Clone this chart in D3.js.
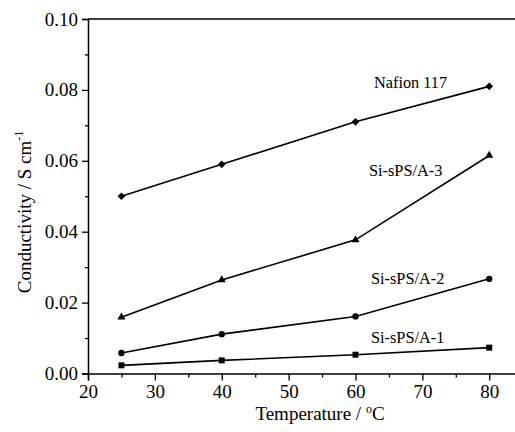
<!DOCTYPE html>
<html>
<head>
<meta charset="utf-8">
<script src="https://cdn.jsdelivr.net/npm/d3@7"></script>
<style>
  html, body { margin: 0; padding: 0; background: #fff; }
  svg { display: block; }
  text { font-family: "Liberation Serif", "Times New Roman", serif; fill: #000; }
</style>
</head>
<body>
<svg id="chart" width="515" height="432"></svg>
<script>
// ---- data ----
const temperatures = [25, 40, 60, 80];
const seriesNames = ["Nafion 117", "Si-sPS/A-3", "Si-sPS/A-2", "Si-sPS/A-1"];
const nafion117 = [0.050, 0.059, 0.071, 0.081];
const sisPSA3 = [0.0159, 0.0264, 0.0377, 0.0615];
const sisPSA2 = [0.0058, 0.0111, 0.0161, 0.0267];
const sisPSA1 = [0.0023, 0.0037, 0.0053, 0.0073];
const xTicks = [20, 30, 40, 50, 60, 70, 80];
const xMinorTicks = [25, 35, 45, 55, 65, 75];
const yTicks = [0.00, 0.02, 0.04, 0.06, 0.08, 0.10];
const yMinorTicks = [0.01, 0.03, 0.05, 0.07, 0.09];

const seriesValues = [nafion117, sisPSA3, sisPSA2, sisPSA1];
const markers = ["diamond", "triangle", "circle", "square"];

const svg = d3.select("#chart");
const x = d3.scaleLinear().domain([20, 84]).range([88, 516]);
const y = d3.scaleLinear().domain([0, 0.10]).range([373.5, 19]);

const FONT = "'Liberation Serif', 'Times New Roman', serif";

// axes
const axisStyle = g => {
  g.attr("font-family", null);
  g.selectAll("path.domain").attr("stroke", "#000").attr("stroke-width", 1.5);
  g.selectAll(".tick line").attr("stroke", "#000").attr("stroke-width", 1.3);
  g.selectAll("text").style("font-family", FONT).style("font-size", "19px").attr("fill", "#000");
};

svg.append("g").attr("transform", `translate(0,${y(0)})`)
  .call(d3.axisBottom(x).tickValues(xTicks).tickSize(7).tickPadding(4).tickFormat(d3.format("d")))
  .call(axisStyle);
svg.append("g").attr("transform", `translate(0,${y(0)})`)
  .call(d3.axisBottom(x).tickValues(xMinorTicks).tickSize(4).tickFormat(""))
  .call(g => g.select("path.domain").remove())
  .call(axisStyle);

svg.append("g").attr("transform", `translate(${x(20)},0)`)
  .call(d3.axisLeft(y).tickValues(yTicks).tickSize(6).tickPadding(4).tickFormat(d3.format(".2f")))
  .call(axisStyle);
svg.append("g").attr("transform", `translate(${x(20)},0)`)
  .call(d3.axisLeft(y).tickValues(yMinorTicks).tickSize(3).tickFormat(""))
  .call(g => g.select("path.domain").remove())
  .call(axisStyle);

// top border
svg.append("line")
  .attr("x1", x(20)).attr("x2", x(84))
  .attr("y1", y(0.10)).attr("y2", y(0.10))
  .attr("stroke", "#000").attr("stroke-width", 1.5);

// lines and markers
const line = d3.line().x((d, i) => x(temperatures[i])).y(d => y(d));
const symbolFor = {
  diamond: d3.symbol().type(d3.symbolSquare).size(30),
  triangle: d3.symbol().type(d3.symbolTriangle).size(28),
  circle: d3.symbol().type(d3.symbolCircle).size(32),
  square: d3.symbol().type(d3.symbolSquare).size(36)
};

seriesValues.forEach((vals, si) => {
  svg.append("path").datum(vals)
    .attr("d", line)
    .attr("fill", "none")
    .attr("stroke", "#000")
    .attr("stroke-width", 1.6);
  svg.selectAll(null).data(vals).enter().append("path")
    .attr("d", symbolFor[markers[si]]())
    .attr("transform", (d, i) => `translate(${x(temperatures[i])},${y(d)})` + (markers[si] === "diamond" ? " rotate(45)" : ""))
    .attr("fill", "#000");
});

// series labels
const labelPos = [[374, 88], [369, 176], [371, 284], [371, 343]];
seriesNames.forEach((name, i) => {
  svg.append("text")
    .attr("x", labelPos[i][0]).attr("y", labelPos[i][1])
    .style("font-family", FONT)
    .style("font-size", "16.3px")
    .text(name);
});

// axis titles
const xt = svg.append("text")
  .attr("x", 320).attr("y", 420)
  .attr("text-anchor", "middle")
  .style("font-family", FONT)
  .style("font-size", "19px");
xt.append("tspan").text("Temperature / ");
xt.append("tspan").attr("dy", -7).style("font-size", "12px").text("o");
xt.append("tspan").attr("dy", 7).text("C");

const yt = svg.append("text")
  .attr("transform", "translate(31,212) rotate(-90)")
  .attr("text-anchor", "middle")
  .style("font-family", FONT)
  .style("font-size", "19px");
yt.append("tspan").text("Conductivity / S cm");
yt.append("tspan").attr("dy", -8).style("font-size", "12px").text("-1");
</script>
</body>
</html>
